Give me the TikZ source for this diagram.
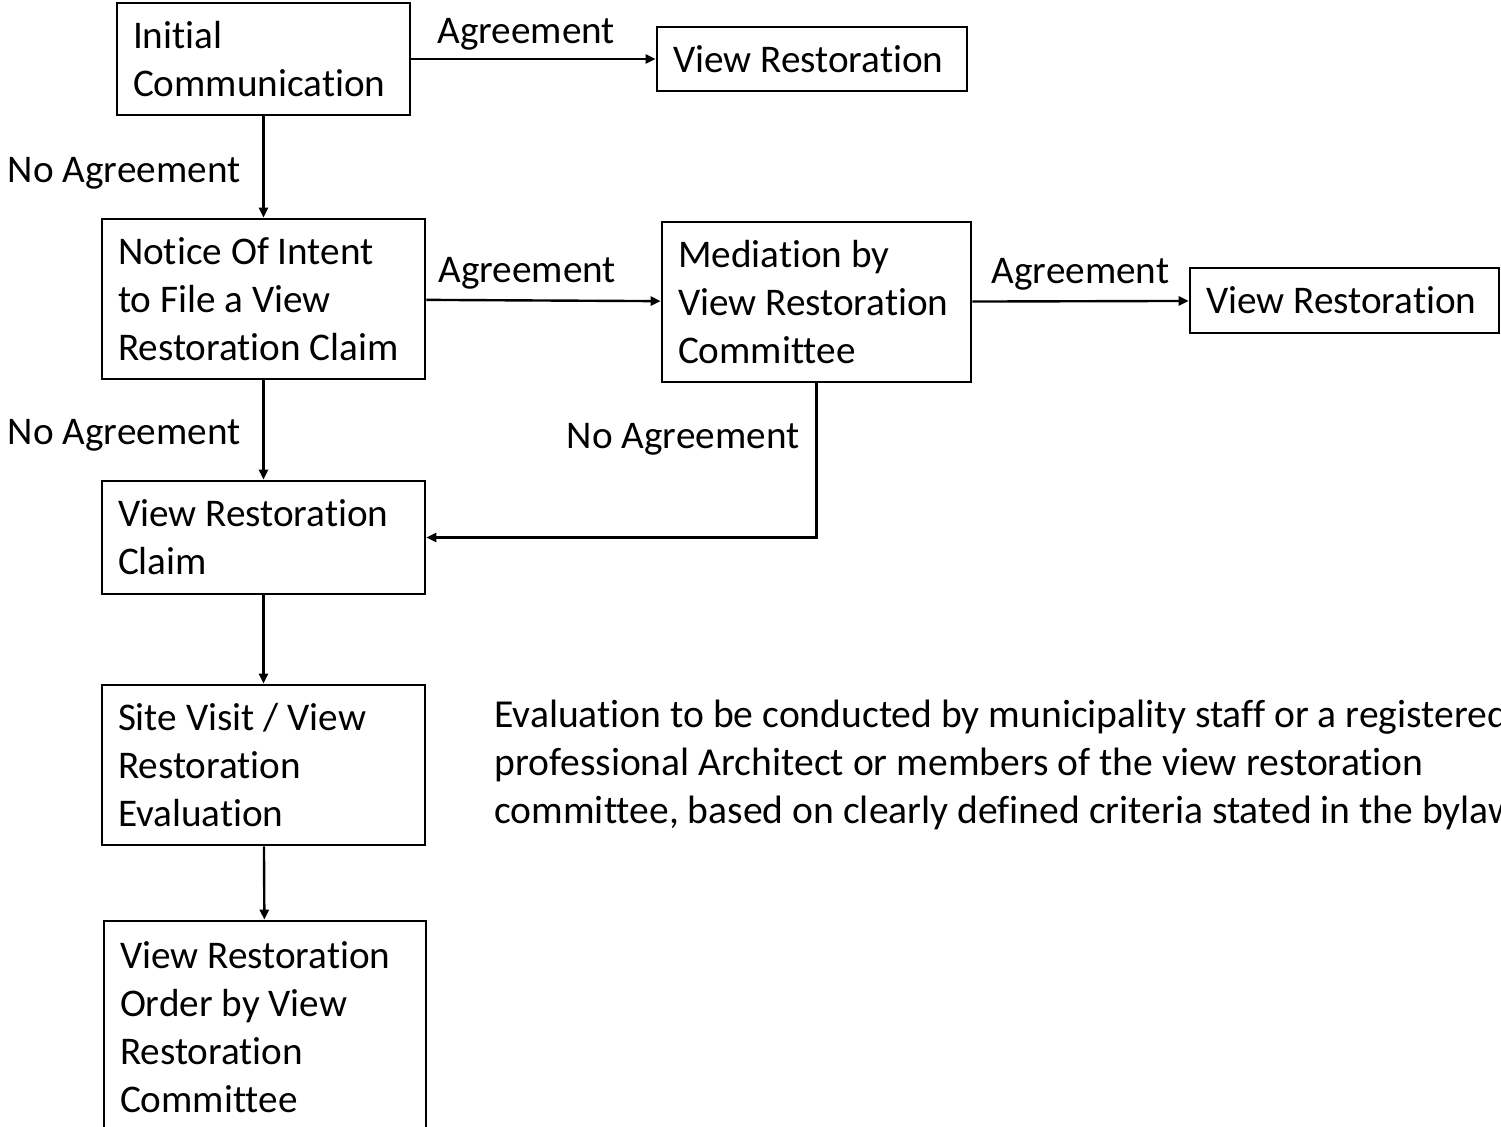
\documentclass[tikz,border=0pt]{standalone}
\usepackage{fontspec}
\setmainfont{Carlito}[Ligatures=CommonOff]
\usetikzlibrary{arrows.meta}
\tikzset{
  box/.style={draw, line width=1.3pt, align=flush left, inner xsep=8pt, inner ysep=0pt,
    font=\fontsize{19.6}{24}\selectfont},
  lbl/.style={font=\fontsize{19.6}{24}\selectfont, inner sep=2pt},
  link/.style={line width=1.2pt, -{Triangle[length=5pt,width=4.5pt]}}
}
\begin{document}
\begin{tikzpicture}[x=0.5pt,y=-0.5pt]
	\useasboundingbox (0,0) rectangle (1501,1127);
	\clip (0,0) rectangle (1501,1127);
	% steps of the claim
	\node[box, text width=130.5pt, minimum height=56pt] (init) at (263.5,59) {Initial\\Communication};
	\node[box, text width=139pt, minimum height=32pt] (restA) at (812,59) {View Restoration};
	\node[box, text width=145.5pt, minimum height=80pt] (notice) at (263.5,299) {Notice Of Intent\\to File a View\\Restoration Claim};
	\node[box, text width=138.5pt, minimum height=80pt] (med) at (816.5,302) {Mediation by\\View Restoration\\Committee};
	\node[box, text width=138.5pt, minimum height=32.5pt] (restB) at (1344.5,300.5) {View Restoration};
	\node[box, text width=145.5pt, minimum height=56.5pt] (claim) at (263.5,537.5) {View Restoration\\Claim};
	\node[box, text width=145.5pt, minimum height=80pt] (site) at (263.5,765) {Site Visit / View\\Restoration\\Evaluation};
	\node[box, text width=145pt, minimum height=106.5pt] (order) at (265,1027.5) {View Restoration\\Order by View\\Restoration\\Committee};
	\node[lbl, anchor=west, align=flush left, inner sep=0pt, font=\fontsize{19.8}{24}\selectfont] (note) at (494,765) {Evaluation to be conducted by municipality staff or a registered\\professional Architect or members of the view restoration\\committee, based on clearly defined criteria stated in the bylaws};
	% connectors
	\draw[link] (init) -- node[lbl, above=2pt, pos=0.47] {Agreement} (restA);
	\draw[link] (init) -- node[lbl, left=9pt, pos=0.56] {No Agreement} (notice);
	\draw[link] (notice) -- node[lbl, above=3pt, pos=0.43] {Agreement} (med);
	\draw[link] (med) -- node[lbl, above=3pt] {Agreement} (restB);
	\draw[link] (notice) -- node[lbl, left=9pt, pos=0.55] {No Agreement} (claim);
	\draw[link] (med.south) |- node[lbl, left=6pt, pos=0.18] {No Agreement} (claim.east);
	\draw[link] (claim) -- (site);
	\draw[link] (site) -- (order);
\end{tikzpicture}
\end{document}
